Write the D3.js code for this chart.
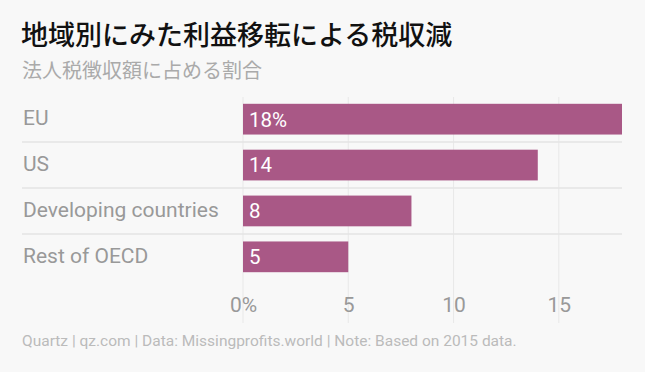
<!DOCTYPE html>
<html><head><meta charset="utf-8">
<script src="https://cdn.jsdelivr.net/npm/d3@7"></script>
<style>
html,body{margin:0;padding:0;background:#f8f8f8;}
svg{display:block;}
</style></head>
<body>
<script>
const categories = ["EU", "US", "Developing countries", "Rest of OECD"];
const values = [18, 14, 8, 5];
const valueLabels = ["18%", "14", "8", "5"];
const tickValues = [0, 5, 10, 15];
const tickLabels = ["0%", "5", "10", "15"];
const title = "地域別にみた利益移転による税収減";
const subtitle = "法人税徴収額に占める割合";
const footer = "Quartz | qz.com | Data: Missingprofits.world | Note: Based on 2015 data.";

const W = 645, H = 372;
const svg = d3.select("body").append("svg").attr("width", W).attr("height", H);
svg.append("rect").attr("width", W).attr("height", H).attr("fill", "#f8f8f8");

const latin = "Roboto, 'Noto Sans', sans-serif";
const cjk = "'Noto Sans CJK JP', sans-serif";

svg.append("text").attr("x", 21).attr("y", 45).text(title)
  .attr("font-family", cjk).attr("font-size", 27).attr("font-weight", 500).attr("fill", "#111");
svg.append("text").attr("x", 22).attr("y", 77.5).text(subtitle)
  .attr("font-family", cjk).attr("font-size", 20).attr("fill", "#aaa");

const x = d3.scaleLinear().domain([0, 18]).range([243, 622]);
const y = d3.scaleBand().domain(categories).range([96, 280]).paddingInner(0.33).paddingOuter(0.17);

// vertical gridlines
svg.append("g").selectAll("line").data(tickValues).join("line")
  .attr("x1", d => x(d)).attr("x2", d => x(d))
  .attr("y1", 97).attr("y2", 323)
  .attr("stroke", "#e8e8e8").attr("stroke-width", 1);

// row separators
const step = y.step();
svg.append("g").selectAll("line").data(categories.slice(1)).join("line")
  .attr("x1", 22).attr("x2", 622)
  .attr("y1", d => y(d) - (step - y.bandwidth()) / 2)
  .attr("y2", d => y(d) - (step - y.bandwidth()) / 2)
  .attr("stroke", "#e4e4e4").attr("stroke-width", 1.5);

// bars
svg.append("g").selectAll("rect").data(values).join("rect")
  .attr("x", x(0)).attr("y", (d, i) => y(categories[i]))
  .attr("width", d => x(d) - x(0)).attr("height", y.bandwidth())
  .attr("fill", "#a95886");

// value labels
svg.append("g").selectAll("text").data(valueLabels).join("text")
  .attr("x", x(0) + 6).attr("y", (d, i) => y(categories[i]) + y.bandwidth() / 2)
  .attr("dy", "0.36em").text(d => d)
  .attr("font-family", latin).attr("font-size", 20.5).attr("fill", "#fff");

// category labels
svg.append("g").selectAll("text").data(categories).join("text")
  .attr("x", 23).attr("y", d => y(d) + y.bandwidth() / 2)
  .attr("dy", "0.3em").text(d => d)
  .attr("font-family", latin).attr("font-size", 21).attr("fill", "#999");

// x axis
const axis = d3.axisBottom(x).tickValues(tickValues).tickFormat((d, i) => tickLabels[i]).tickSize(0).tickPadding(0);
const ax = svg.append("g").attr("transform", "translate(0,312)").call(axis);
ax.select(".domain").remove();
ax.selectAll("text").attr("font-family", latin).attr("font-size", 21).attr("fill", "#999").attr("dy", 0);

svg.append("text").attr("x", 22).attr("y", 346).text(footer)
  .attr("font-family", latin).attr("font-size", 15.5).attr("fill", "#bbb");
</script>
</body></html>
